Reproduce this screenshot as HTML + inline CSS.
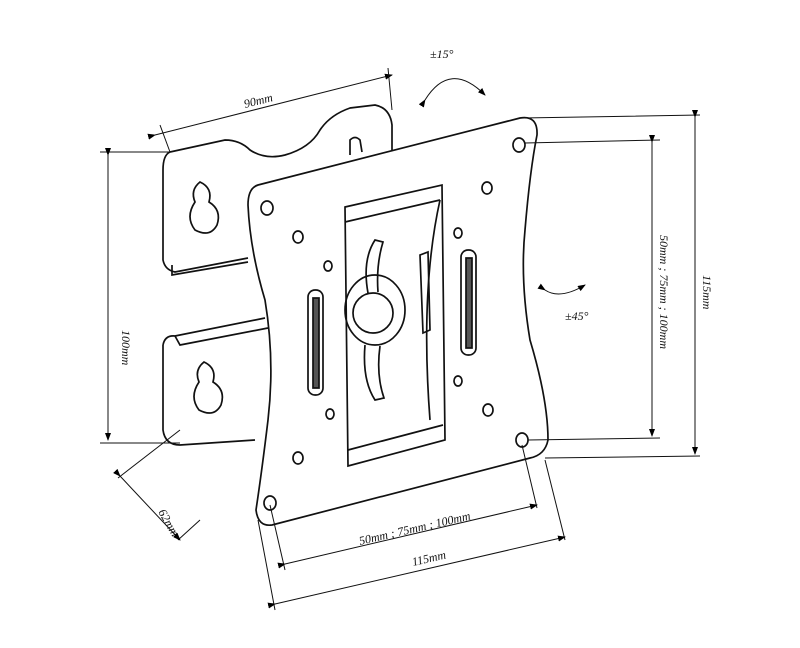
<!DOCTYPE html>
<html><head><style>html,body{margin:0;padding:0;background:#fff}svg{display:block}</style></head>
<body>
<svg width="800" height="648" viewBox="0 0 800 648" xmlns="http://www.w3.org/2000/svg" font-family="Liberation Serif, serif" font-style="italic">
<defs><marker id="a" markerWidth="8" markerHeight="6" refX="7" refY="3" orient="auto"><path d="M0,0L8,3L0,6z" fill="#000"/></marker></defs>
<g fill="none" stroke="#111" stroke-width="1.7">
<path d="M170,152 L225,140 Q240,140 250,150 Q265,160 285,155 Q310,148 320,130 Q330,115 350,108 L375,105 Q390,108 392,125 L392,150"/>
<path d="M170,152 Q163,155 163,170 L163,260 Q165,270 175,272 L248,258"/>
<path d="M172,265 L172,275 L248,262"/>
<path d="M163,345 L163,430 Q165,445 180,445 L255,440"/>
<path d="M163,345 Q165,335 175,336 L265,318 M175,336 L180,345 L268,328"/>
<path d="M200,182 q-10,8 -5,20 q-10,15 0,28 q15,8 22,-5 q5,-15 -8,-23 q4,-14 -9,-20z"/>
<path d="M204,362 q-10,8 -5,20 q-10,15 0,28 q15,8 22,-5 q5,-15 -8,-23 q4,-14 -9,-20z"/>
<path d="M350,155 L350,140 Q355,135 360,140 L362,152"/>
<path d="M258,185 L520,118 Q538,115 537,135 Q530,170 525,230 Q520,280 530,340 Q548,400 548,440 Q545,455 530,458 L272,525 Q258,527 256,510 Q262,470 268,420 Q275,360 265,300 Q250,250 248,205 Q248,188 258,185z"/>
<g>
<ellipse cx="267" cy="208" rx="6" ry="7"/><ellipse cx="519" cy="145" rx="6" ry="7"/>
<ellipse cx="298" cy="237" rx="5" ry="6"/><ellipse cx="487" cy="188" rx="5" ry="6"/>
<ellipse cx="328" cy="266" rx="4" ry="5"/><ellipse cx="458" cy="233" rx="4" ry="5"/>
<ellipse cx="330" cy="414" rx="4" ry="5"/><ellipse cx="458" cy="381" rx="4" ry="5"/>
<ellipse cx="298" cy="458" rx="5" ry="6"/><ellipse cx="488" cy="410" rx="5" ry="6"/>
<ellipse cx="270" cy="503" rx="6" ry="7"/><ellipse cx="522" cy="440" rx="6" ry="7"/>
</g>
<rect x="308" y="290" width="15" height="105" rx="7"/>
<rect x="313" y="298" width="6" height="90" fill="#555"/>
<rect x="461" y="250" width="15" height="105" rx="7"/>
<rect x="466" y="258" width="6" height="90" fill="#555"/>
<path d="M345,207 L442,185 L445,440 L348,466z"/>
<path d="M345,222 L440,200 M348,450 L443,425"/>
<path d="M440,200 Q420,290 430,420"/>
<path d="M420,255 L428,252 L430,330 L423,333z"/>
<ellipse cx="375" cy="310" rx="30" ry="35"/>
<circle cx="373" cy="313" r="20"/>
<path d="M368,293 Q362,260 375,240 L383,242 Q376,265 378,292"/>
<path d="M365,345 Q362,380 375,400 L384,398 Q376,375 380,346"/>
<g stroke-width="1">
<path d="M155,135 L392,75" marker-start="url(#a)" marker-end="url(#a)"/>
<path d="M160,125 L170,152 M388,68 L392,110"/>
<path d="M100,152 L170,152 M100,443 L180,443"/>
<path d="M108,155 L108,440" marker-start="url(#a)" marker-end="url(#a)"/>
<path d="M180,430 L118,478 M200,520 L178,540"/>
<path d="M120,476 L180,540" marker-start="url(#a)" marker-end="url(#a)"/>
<path d="M525,143 L660,140 M528,440 L660,438 M522,118 L700,115 M545,458 L700,456"/>
<path d="M652,142 L652,436" marker-start="url(#a)" marker-end="url(#a)"/>
<path d="M695,117 L695,454" marker-start="url(#a)" marker-end="url(#a)"/>
<path d="M270,505 L285,570 M522,445 L537,508 M258,520 L275,610 M545,460 L565,540"/>
<path d="M285,564 L537,505" marker-start="url(#a)" marker-end="url(#a)"/>
<path d="M275,604 L565,537" marker-start="url(#a)" marker-end="url(#a)"/>
<path d="M425,100 Q450,60 485,95" marker-start="url(#a)" marker-end="url(#a)"/>
<path d="M545,290 Q560,300 585,285" marker-start="url(#a)" marker-end="url(#a)"/>
</g>
</g>
<g font-size="12" fill="#111">
<text x="245" y="108" transform="rotate(-14 245 108)">90mm</text>
<text x="430" y="58">±15°</text>
<text x="565" y="320">±45°</text>
<text x="360" y="545" transform="rotate(-13 360 545)">50mm ; 75mm ; 100mm</text>
<text x="413" y="566" transform="rotate(-13 413 566)">115mm</text>
<text x="122" y="330" transform="rotate(90 122 330)">100mm</text>
<text x="158" y="512" transform="rotate(60 158 512)">62mm</text>
<text x="660" y="235" transform="rotate(90 660 235)">50mm ; 75mm ; 100mm</text>
<text x="703" y="275" transform="rotate(90 703 275)">115mm</text>
</g>
</svg>
</body></html>
